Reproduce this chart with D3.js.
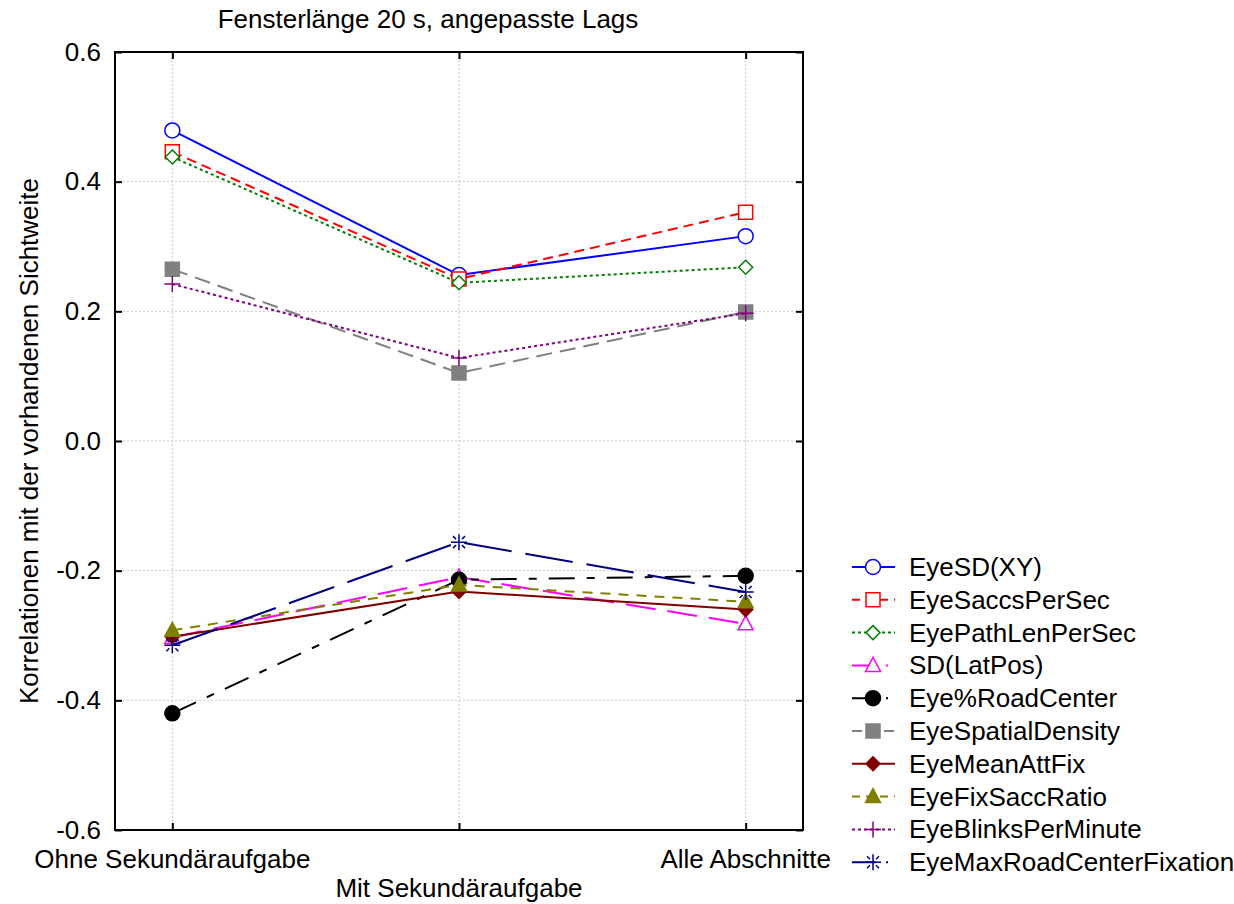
<!DOCTYPE html>
<html>
<head>
<meta charset="utf-8">
<script src="https://cdn.jsdelivr.net/npm/d3@7"></script>
<style>
  body { margin: 0; background: #fff; }
  text { font-family: "Liberation Sans", Arial, sans-serif; fill: #000; }
</style>
</head>
<body>
<svg id="chart" width="1234" height="904"></svg>
<script>
var width = 1234, height = 904
var frame = {left: 115, right: 803, top: 52, bottom: 830}
var fontSize = "26px"

// data
const categories = ["Ohne Sekundäraufgabe", "Mit Sekundäraufgabe", "Alle Abschnitte"]
const yTicks = [-0.6, -0.4, -0.2, 0.0, 0.2, 0.4, 0.6]
const seriesNames = ["EyeSD(XY)", "EyeSaccsPerSec", "EyePathLenPerSec", "SD(LatPos)", "Eye%RoadCenter",
    "EyeSpatialDensity", "EyeMeanAttFix", "EyeFixSaccRatio", "EyeBlinksPerMinute", "EyeMaxRoadCenterFixation"]
const eyeSdXY = [0.479, 0.256, 0.316]
const eyeSaccsPerSec = [0.446, 0.250, 0.353]
const eyePathLenPerSec = [0.438, 0.244, 0.268]
const sdLatPos = [-0.303, -0.210, -0.282]
const eyeRoadCenter = [-0.420, -0.214, -0.208]
const eyeSpatialDensity = [0.265, 0.105, 0.199]
const eyeMeanAttFix = [-0.302, -0.232, -0.260]
const eyeFixSaccRatio = [-0.292, -0.222, -0.248]
const eyeBlinksPerMinute = [0.242, 0.128, 0.197]
const eyeMaxRoadCenterFix = [-0.315, -0.156, -0.233]

const seriesValues = [eyeSdXY, eyeSaccsPerSec, eyePathLenPerSec, sdLatPos, eyeRoadCenter,
    eyeSpatialDensity, eyeMeanAttFix, eyeFixSaccRatio, eyeBlinksPerMinute, eyeMaxRoadCenterFix]

// look of each series
const styles = [
    {color: "#0000ff", dash: null, legendDash: null, marker: "circle", fill: false},
    {color: "#ff0000", dash: "10,6", legendDash: "8,6", marker: "square", fill: false},
    {color: "#008000", dash: "3,3", legendDash: "3,3", marker: "diamond", fill: false},
    {color: "#ff00ff", dash: "30,12", legendDash: "24,10,2,10", marker: "triangle", fill: false},
    {color: "#000000", dash: "26,12,8,12", legendDash: "24,10,2,10", marker: "circle", fill: true},
    {color: "#808080", dash: "16,8", legendDash: "10,6", marker: "square", fill: true},
    {color: "#800000", dash: null, legendDash: null, marker: "diamond", fill: true},
    {color: "#808000", dash: "10,8", legendDash: "8,6", marker: "triangle", fill: true},
    {color: "#800080", dash: "3,3", legendDash: "3,3", marker: "plus", fill: false},
    {color: "#000080", dash: "48,14", legendDash: "24,10,2,10", marker: "star", fill: false}
]

function markerPath(type) {
    if (type == "circle") return d3.symbol(d3.symbolCircle, Math.PI * 7.5 * 7.5)()
    if (type == "square") return "M-7,-7H7V7H-7Z"
    if (type == "diamond") return "M0,-7L7,0L0,7L-7,0Z"
    if (type == "triangle") return "M0,-8L7.5,6L-7.5,6Z"
    if (type == "plus") return "M-8,0H8M0,-8V8"
    if (type == "star") return "M-8,0H8M0,-8V8M-6,-6L-3,-3M3,3L6,6M6,-6L3,-3M-3,3L-6,6"
}

function markerFill(st) {
    if (st.fill) return st.color
    return (st.marker == "plus" || st.marker == "star") ? "none" : "#fff"
}

var svg = d3.select("#chart")

var x = d3.scaleLinear().domain([-0.2, 2.2]).range([frame.left, frame.right])
var y = d3.scaleLinear().domain([-0.6, 0.6]).range([frame.bottom, frame.top])

// grid
svg.append("g").selectAll("line")
    .data(yTicks.slice(1, -1))
    .enter().append("line")
    .attr("x1", frame.left).attr("x2", frame.right)
    .attr("y1", d => y(d)).attr("y2", d => y(d))
    .attr("stroke", "#c8c8c8").attr("stroke-dasharray", "2,2")
svg.append("g").selectAll("line")
    .data(categories)
    .enter().append("line")
    .attr("x1", (d, i) => x(i)).attr("x2", (d, i) => x(i))
    .attr("y1", frame.top).attr("y2", frame.bottom)
    .attr("stroke", "#c8c8c8").attr("stroke-dasharray", "2,2")

// axes with inward ticks
var fmt = d => d.toFixed(1)
var axLeft = svg.append("g").attr("transform", "translate(" + frame.left + ",0)")
    .call(d3.axisLeft(y).tickValues(yTicks).tickSize(-7).tickPadding(14).tickFormat(fmt))
var axRight = svg.append("g").attr("transform", "translate(" + frame.right + ",0)")
    .call(d3.axisRight(y).tickValues(yTicks).tickSize(-7).tickFormat(""))
var axBottom = svg.append("g").attr("transform", "translate(0," + frame.bottom + ")")
    .call(d3.axisBottom(x).tickValues([0, 1, 2]).tickSize(-7).tickFormat(""))
var axTop = svg.append("g").attr("transform", "translate(0," + frame.top + ")")
    .call(d3.axisTop(x).tickValues([0, 1, 2]).tickSize(-7).tickFormat(""))

;[axLeft, axRight, axBottom, axTop].forEach(g => {
    g.select(".domain").remove()
    g.selectAll(".tick line").attr("stroke", "#000").attr("stroke-width", 2)
})
axLeft.attr("font-family", null).attr("font-size", null)
axLeft.selectAll(".tick text").style("font-size", fontSize).attr("fill", "#000")

svg.append("rect")
    .attr("x", frame.left).attr("y", frame.top)
    .attr("width", frame.right - frame.left).attr("height", frame.bottom - frame.top)
    .attr("fill", "none").attr("stroke", "#000").attr("stroke-width", 2)

// category labels, middle one staggered down
svg.append("g").selectAll("text")
    .data(categories)
    .enter().append("text")
    .attr("x", (d, i) => x(i))
    .attr("y", (d, i) => i == 1 ? 897 : 868)
    .attr("text-anchor", "middle")
    .style("font-size", fontSize)
    .text(d => d)

// title and y label
svg.append("text")
    .attr("x", 428).attr("y", 28)
    .attr("text-anchor", "middle")
    .style("font-size", fontSize)
    .text("Fensterlänge 20 s, angepasste Lags")

svg.append("text")
    .attr("transform", "translate(38," + ((frame.top + frame.bottom) / 2) + ") rotate(-90)")
    .attr("text-anchor", "middle")
    .style("font-size", fontSize)
    .text("Korrelationen mit der vorhandenen Sichtweite")

// series
var line = d3.line().x((d, i) => x(i)).y(d => y(d))

seriesValues.forEach((vals, k) => {
    var st = styles[k]
    var g = svg.append("g")
    g.append("path")
        .datum(vals)
        .attr("fill", "none")
        .attr("stroke", st.color)
        .attr("stroke-width", 2)
        .attr("stroke-dasharray", st.dash)
        .attr("d", line)
    g.selectAll(".mark")
        .data(vals)
        .enter().append("path")
        .attr("class", "mark")
        .attr("transform", (d, i) => "translate(" + x(i) + "," + y(d) + ")")
        .attr("d", markerPath(st.marker))
        .attr("fill", markerFill(st))
        .attr("stroke", st.color)
        .attr("stroke-width", 1.5)
})

// legend
var legend = svg.append("g").attr("transform", "translate(852,567)")
var rows = legend.selectAll("g")
    .data(seriesNames)
    .enter().append("g")
    .attr("transform", (d, i) => "translate(0," + (i * 32.8) + ")")

rows.append("line")
    .attr("x1", 0).attr("x2", 43).attr("y1", 0).attr("y2", 0)
    .attr("stroke", (d, i) => styles[i].color)
    .attr("stroke-width", 2)
    .attr("stroke-dasharray", (d, i) => styles[i].legendDash)
rows.append("path")
    .attr("transform", "translate(21,0)")
    .attr("d", (d, i) => markerPath(styles[i].marker))
    .attr("fill", (d, i) => markerFill(styles[i]))
    .attr("stroke", (d, i) => styles[i].color)
    .attr("stroke-width", 1.5)
rows.append("text")
    .attr("x", 57).attr("y", 9)
    .style("font-size", fontSize)
    .text(d => d)
</script>
</body>
</html>
